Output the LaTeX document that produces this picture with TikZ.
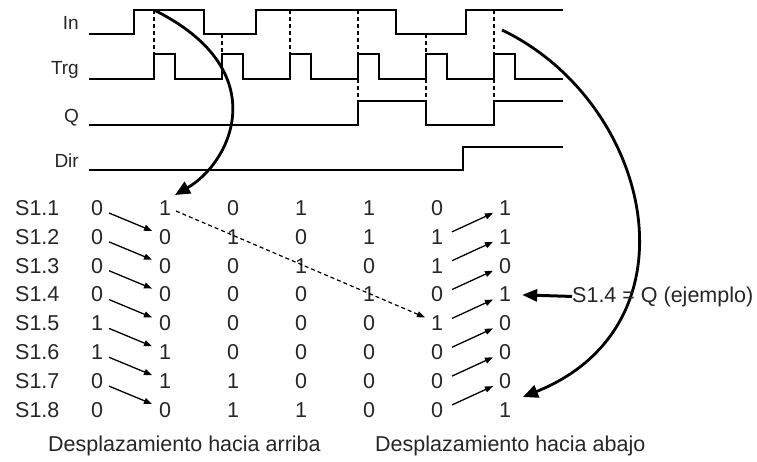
\documentclass[tikz,border=0pt]{standalone}
\usepackage{fontspec}
\setmainfont{Liberation Sans}
\usetikzlibrary{arrows.meta,calc}
\begin{document}
\begin{tikzpicture}[x=1pt,y=-1pt,
  sig/.style={line width=1.3pt, line join=miter},
  guide/.style={line width=1.2pt, dash pattern=on 4pt off 3pt},
  lbl/.style={font=\fontsize{19}{22}\selectfont, anchor=base east, inner sep=0pt, text=black!85},
  cell/.style={font=\fontsize{21.5}{24}\selectfont, inner sep=0pt, text=black!85},
  rowlbl/.style={cell, anchor=west},
  shiftarrow/.style={line width=1.3pt, -{Triangle[length=8pt,width=6pt]}},
  bigcurve/.style={line width=2.8pt, -{Triangle[length=15pt,width=13pt]}},
  qarrow/.style={line width=3pt, -{Triangle[length=15pt,width=12pt]}, shorten >=11pt}
]
\useasboundingbox (0,0) rectangle (757,461);

% signal labels
\node[lbl] (lIn)  at (79,29)  {In};
\node[lbl] (lTrg) at (79,74)  {Trg};
\node[lbl] (lQ)   at (79,122) {Q};
\node[lbl] (lDir) at (79,167) {Dir};

% waveforms
\draw[sig] (89,34) -- (134,34) -- (134,10) -- (204,10) -- (204,34) -- (256,34) -- (256,10)
  -- (396,10) -- (396,34) -- (466,34) -- (466,10) -- (563,10);
\draw[sig] (89,79)
  \foreach \r in {154,222,290,358,426,494} { -- (\r,79) -- (\r,54) -- ({\r+21},54) -- ({\r+21},79) }
  -- (563,79);
\draw[sig] (89,125) -- (358,125) -- (358,101) -- (426,101) -- (426,125) -- (494,125) -- (494,101) -- (563,101);
\draw[sig] (89,170) -- (463,170) -- (463,147) -- (563,147);

% dashed guides
\draw[guide] (154,10) -- (154,54);
\draw[guide] (222,34) -- (222,54);
\draw[guide] (290,10) -- (290,54);
\draw[guide] (358,10) -- (358,54);
\draw[guide] (426,34) -- (426,54);
\draw[guide] (494,10) -- (494,54);
\draw[guide] (358,79) -- (358,101);
\draw[guide] (426,79) -- (426,101);
\draw[guide] (494,79) -- (494,101);

% table
\foreach \row [count=\i] in {{0,1,0,1,1,0,1},{0,0,1,0,1,1,1},{0,0,0,1,0,1,0},{0,0,0,0,1,0,1},
                             {1,0,0,0,0,1,0},{1,1,0,0,0,0,0},{0,1,1,0,0,0,0},{0,0,1,1,0,0,1}} {
  \node[rowlbl] (s\i) at (15,{208+28.85*(\i-1)}) {S1.\i};
  \foreach \v [count=\j from 0] in \row {
    \node[cell] (c-\i-\j) at ({97+68*\j},{208+28.85*(\i-1)}) {\v};
  }
}

% shift arrows
\foreach \i in {1,...,7} {
  \pgfmathtruncatemacro{\k}{\i+1}
  \draw[shiftarrow] ($(c-\i-0.center)+(12,5)$) -- ($(c-\k-1.center)+(-13,-6)$);
  \draw[shiftarrow] ($(c-\k-5.center)+(15,-5)$) -- ($(c-\i-6.center)+(-12,5)$);
}

% dashed diagonal
\draw[guide, -{Triangle[length=8pt,width=6pt]}] ($(c-1-1.center)+(11,3)$) -- ($(c-5-5.center)+(-12,-6)$);

% big curves
\coordinate (inA) at (154,10);
\coordinate (inB) at (502,30);
\draw[bigcurve] (inA) .. controls (275,70) and (232,162) .. ($(c-1-1.center)+(10,-13)$);
\draw[bigcurve] (inB) .. controls (652,102) and (702,325) .. ($(c-8-6.center)+(18,-13)$);

% note
\node[cell, anchor=base west] (note) at (572,302) {S1.4 = Q (ejemplo)};
\draw[qarrow] (note.west) -- (c-4-6.east);

% captions
\node[cell, anchor=base west] (up)   at (48,451)  {Desplazamiento hacia arriba};
\node[cell, anchor=base west] (down) at (375,451) {Desplazamiento hacia abajo};
\end{tikzpicture}
\end{document}
